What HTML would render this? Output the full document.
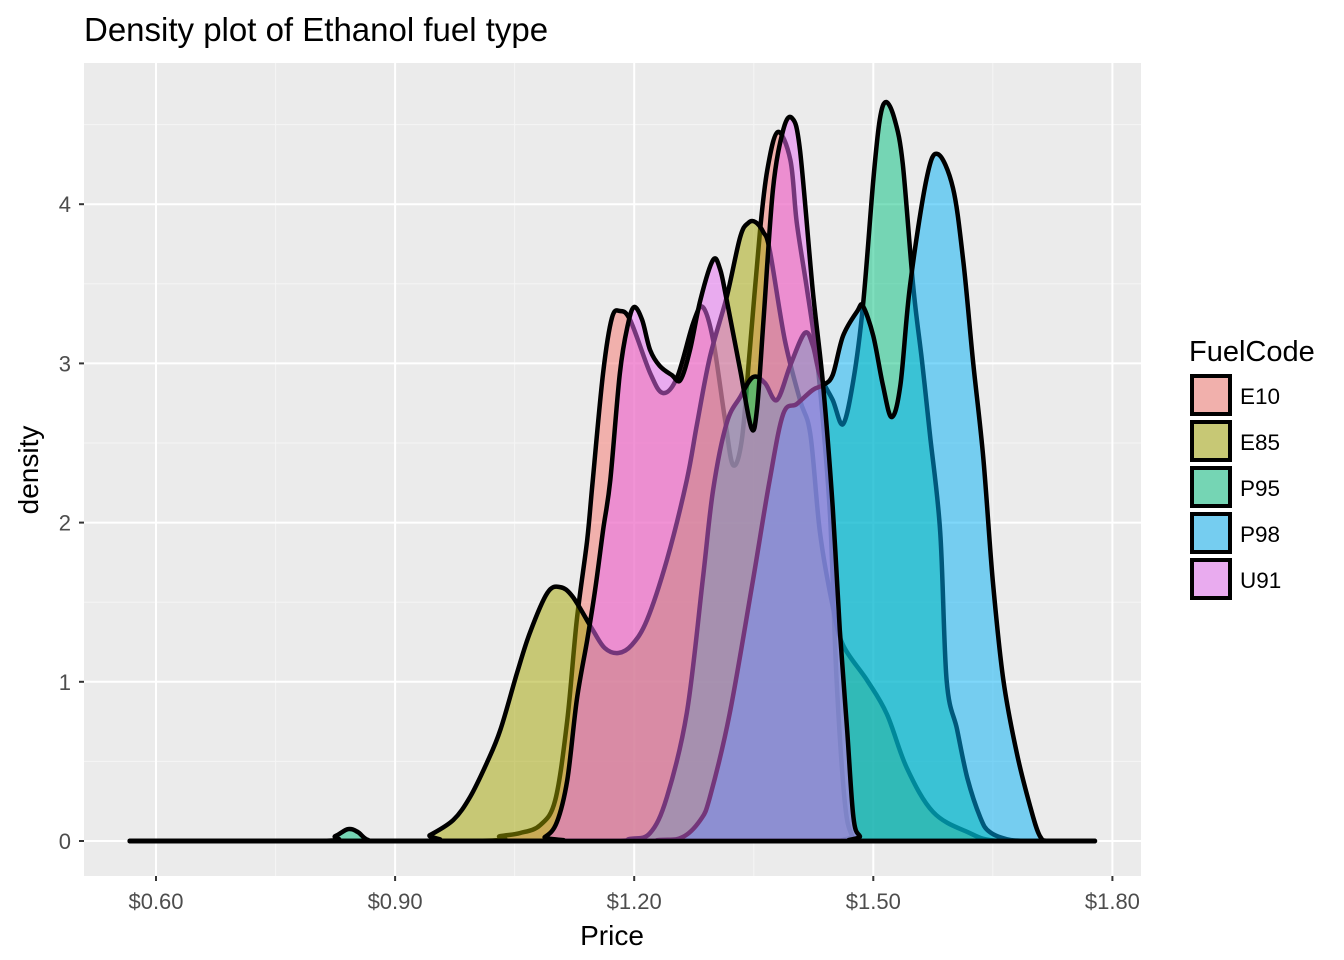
<!DOCTYPE html>
<html><head><meta charset="utf-8">
<style>
html,body{margin:0;padding:0;background:#fff;}
svg{display:block;font-family:"Liberation Sans",Arial,sans-serif;}
</style></head>
<body>
<svg id="chart" width="1344" height="960" viewBox="0 0 1344 960">
  <rect x="0" y="0" width="1344" height="960" fill="#fff"/>
  <text x="84" y="41" font-size="33" fill="#000">Density plot of Ethanol fuel type</text>
  <rect x="84" y="63" width="1057" height="813" fill="#ebebeb"/>
  <g id="grid"></g>
  <g id="series"></g>
  <g id="axes"></g>
  <text x="612" y="945" font-size="28" text-anchor="middle" fill="#000">Price</text>
  <text x="0" y="0" font-size="28" text-anchor="middle" fill="#000" transform="translate(38,470) rotate(-90)">density</text>
  <g id="legend">
    <text x="1189" y="361" font-size="29" fill="#000">FuelCode</text>
  </g>
</svg>
<script>
const seriesNames = ["E10","E85","P95","P98","U91"];
const seriesColors = ["#F8766D","#A3A500","#00BF7D","#00B0F6","#E76BF3"];
const xTicks = [0.6,0.9,1.2,1.5,1.8];
const xTickLabels = ["$0.60","$0.90","$1.20","$1.50","$1.80"];
const yTicks = [0,1,2,3,4];
const yTickLabels = ["0","1","2","3","4"];

const e10Price = [0.567,0.994,1.032,1.057,1.082,1.101,1.116,1.128,1.141,1.148,1.161,1.172,1.182,1.195,1.220,1.236,1.254,1.274,1.286,1.299,1.314,1.324,1.335,1.345,1.358,1.367,1.380,1.396,1.404,1.417,1.429,1.437,1.446,1.454,1.464,1.473,1.486,1.778];
const e10Dens  = [0,0,0.031,0.050,0.100,0.258,0.760,1.388,1.891,2.267,2.940,3.285,3.329,3.272,2.940,2.814,2.914,3.254,3.354,3.147,2.644,2.362,2.519,3.084,3.838,4.215,4.453,4.277,3.882,3.461,3.040,2.625,2.016,1.011,0.258,0.038,0,0];

const e85Price = [0.567,0.925,0.944,0.973,0.994,1.015,1.032,1.053,1.069,1.091,1.107,1.123,1.148,1.163,1.180,1.197,1.216,1.241,1.266,1.279,1.295,1.316,1.333,1.343,1.352,1.362,1.370,1.389,1.408,1.421,1.433,1.449,1.462,1.492,1.517,1.542,1.575,1.618,1.659,1.778];
const e85Dens  = [0,0,0.038,0.132,0.276,0.490,0.697,1.055,1.306,1.558,1.595,1.533,1.325,1.212,1.181,1.231,1.388,1.765,2.267,2.625,3.040,3.417,3.794,3.882,3.888,3.825,3.712,3.147,2.770,2.556,1.941,1.476,1.231,1.011,0.798,0.459,0.182,0.057,0,0];

const p95Price = [0.567,0.806,0.825,0.841,0.853,0.866,0.887,1.157,1.195,1.220,1.241,1.266,1.286,1.299,1.316,1.333,1.349,1.364,1.379,1.396,1.414,1.424,1.433,1.449,1.462,1.475,1.487,1.500,1.508,1.516,1.527,1.537,1.550,1.561,1.571,1.584,1.592,1.605,1.618,1.634,1.646,1.672,1.700,1.778];
const p95Dens  = [0,0,0.031,0.075,0.057,0.006,0,0,0.013,0.050,0.276,0.804,1.639,2.205,2.625,2.789,2.914,2.877,2.770,2.990,3.191,3.115,2.927,2.770,2.619,2.896,3.360,4.152,4.529,4.642,4.529,4.252,3.486,3.021,2.556,1.941,1.011,0.703,0.396,0.151,0.057,0.006,0,0];

const p98Price = [0.567,1.157,1.232,1.261,1.283,1.295,1.320,1.349,1.370,1.387,1.404,1.424,1.437,1.449,1.462,1.480,1.487,1.500,1.512,1.523,1.534,1.546,1.567,1.581,1.600,1.613,1.625,1.638,1.650,1.663,1.680,1.697,1.709,1.722,1.778];
const p98Dens  = [0,0,0.006,0.025,0.132,0.276,0.804,1.639,2.267,2.682,2.745,2.833,2.864,2.927,3.172,3.329,3.360,3.172,2.864,2.663,2.864,3.486,4.164,4.315,4.101,3.637,3.021,2.406,1.633,1.018,0.553,0.214,0.031,0,0];

const u91Price = [0.567,1.069,1.088,1.103,1.116,1.128,1.141,1.151,1.161,1.170,1.182,1.192,1.200,1.210,1.220,1.232,1.247,1.258,1.270,1.283,1.299,1.308,1.316,1.333,1.347,1.354,1.362,1.374,1.387,1.398,1.408,1.424,1.437,1.449,1.458,1.467,1.475,1.483,1.493,1.778];
const u91Dens  = [0,0,0.025,0.119,0.383,0.886,1.262,1.577,1.953,2.267,2.940,3.241,3.354,3.272,3.084,2.984,2.927,2.896,3.084,3.398,3.650,3.587,3.398,2.958,2.594,2.707,3.254,4.089,4.466,4.541,4.340,3.461,2.864,2.098,1.325,0.710,0.151,0.031,0,0];

const NS = "http://www.w3.org/2000/svg";
const X0 = 156, XPX = 797, Y0 = 841, YPX = 159.2;
function xScale(p){ return X0 + (p - 0.6) * XPX; }
function yScale(d){ return Y0 - d * YPX; }
function mk(tag, attrs, parent){
  const el = document.createElementNS(NS, tag);
  for (const k in attrs) el.setAttribute(k, attrs[k]);
  parent.appendChild(el);
  return el;
}
const grid = document.getElementById('grid');
const axes = document.getElementById('axes');
for (let i = 0; i < xTicks.length - 1; i++) {
  const xm = xScale((xTicks[i] + xTicks[i+1]) / 2);
  const l = mk('line', {x1:xm, x2:xm, y1:63, y2:876, stroke:'#f5f5f5', 'stroke-width':1}, grid);
  
  
}
for (let i = -1; i < yTicks.length; i++) {
  const ym = yScale(i + 0.5);
  if (ym < 63 || ym > 876) continue;
  const l = mk('line', {x1:84, x2:1141, y1:ym, y2:ym, stroke:'#f5f5f5', 'stroke-width':1}, grid);
  
  
}
xTicks.forEach((t, i) => {
  const x = xScale(t);
  const l = mk('line', {x1:x, x2:x, y1:63, y2:876, stroke:'#fff', 'stroke-width':2}, grid);
  
  
  const tk = mk('line', {x1:x, x2:x, y1:876, y2:881, stroke:'#333', 'stroke-width':2}, axes);
  
  
  const tx = mk('text', {x:x, y:909, 'font-size':22, 'text-anchor':'middle', fill:'#4d4d4d'}, axes);
  tx.textContent = xTickLabels[i];
  
  
});
yTicks.forEach((t, i) => {
  const y = yScale(t);
  const l = mk('line', {x1:84, x2:1141, y1:y, y2:y, stroke:'#fff', 'stroke-width':2}, grid);
  
  
  const tk = mk('line', {x1:79, x2:84, y1:y, y2:y, stroke:'#333', 'stroke-width':2}, axes);
  
  
  const tx = mk('text', {x:71, y:y + 8, 'font-size':22, 'text-anchor':'end', fill:'#4d4d4d'}, axes);
  tx.textContent = yTickLabels[i];
  
  
});

function smoothPath(pts){
  let d = 'M' + pts[0][0].toFixed(1) + ',' + pts[0][1].toFixed(1);
  for (let i = 0; i < pts.length - 1; i++) {
    const p0 = pts[Math.max(0, i-1)], p1 = pts[i], p2 = pts[i+1], p3 = pts[Math.min(pts.length-1, i+2)];
    let c1x = p1[0] + (p2[0]-p0[0])/6, c1y = p1[1] + (p2[1]-p0[1])/6;
    let c2x = p2[0] - (p3[0]-p1[0])/6, c2y = p2[1] - (p3[1]-p1[1])/6;
    c1y = Math.min(c1y, Y0); c2y = Math.min(c2y, Y0);
    d += ' C' + c1x.toFixed(1) + ',' + c1y.toFixed(1) + ' ' + c2x.toFixed(1) + ',' + c2y.toFixed(1) + ' ' + p2[0].toFixed(1) + ',' + p2[1].toFixed(1);
  }
  return d;
}
const allPrice = [e10Price, e85Price, p95Price, p98Price, u91Price];
const allDens = [e10Dens, e85Dens, p95Dens, p98Dens, u91Dens];
const seriesG = document.getElementById('series');
allPrice.forEach((pr, s) => {
  const pts = pr.map((p, i) => [xScale(p), yScale(allDens[s][i])]);
  const d = smoothPath(pts) + ' Z';
  const path = mk('path', {d:d, fill:seriesColors[s], 'fill-opacity':0.5, stroke:'#000', 'stroke-width':4.5, 'stroke-linejoin':'round'}, seriesG);
  
  
});

const legend = document.getElementById('legend');
seriesNames.forEach((n, i) => {
  const y = 374 + i * 46;
  const bg = mk('rect', {x:1190, y:y, width:42, height:42, fill:'#ebebeb'}, legend);
  
  
  const key = mk('rect', {x:1192, y:y+2, width:38, height:38, fill:seriesColors[i], 'fill-opacity':0.5, stroke:'#000', 'stroke-width':4}, legend);
  
  
  const t = mk('text', {x:1240, y:y + 30, 'font-size':22.5, fill:'#000'}, legend);
  t.textContent = n;
  
  
});
</script>
</body></html>
